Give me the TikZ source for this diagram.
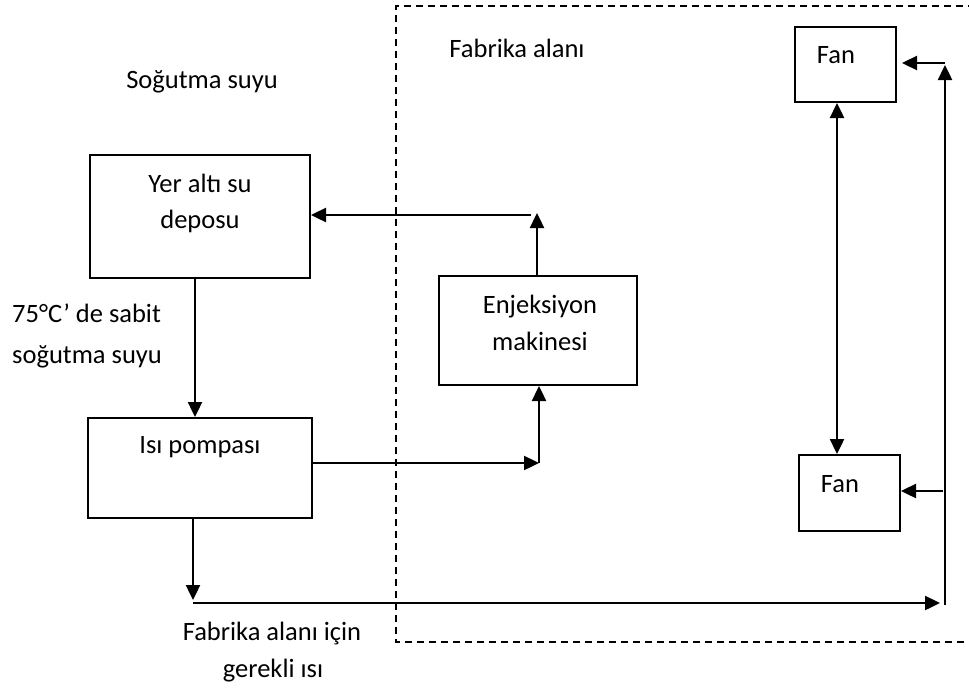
\documentclass[tikz,border=0pt]{standalone}
\usepackage{fontspec}
\setmainfont{Carlito}
\usetikzlibrary{arrows.meta}
\begin{document}
\begin{tikzpicture}[x=1pt,y=-1pt,
  box/.style={draw,line width=2pt,minimum width=#1,inner sep=0pt},
  lbl/.style={inner sep=0pt,anchor=base,font=\fontsize{26.5}{30}\selectfont},
  lblw/.style={inner sep=0pt,anchor=base west,font=\fontsize{26.5}{30}\selectfont},
  arr/.style={line width=2.4pt,-{Triangle[length=15pt,width=14pt]}},
  darr/.style={line width=2.4pt,{Triangle[length=15pt,width=14pt]}-{Triangle[length=15pt,width=14pt]}},
  frame/.style={line width=1.4pt,dash pattern=on 7pt off 5pt}]
\useasboundingbox (0,0) rectangle (969,688);
% dashed factory area
\draw[frame] (975,6) -- (396,6) -- (396,642) -- (975,642);
% boxes
\node[box=220pt,minimum height=123pt] (depo) at (200,216.5) {};
\node[box=224pt,minimum height=100pt] (pompa) at (200,468) {};
\node[box=198pt,minimum height=109pt] (enj) at (538,330.5) {};
\node[box=101pt,minimum height=75pt] (fanA) at (845.5,64.5) {};
\node[box=101pt,minimum height=76pt] (fanB) at (849.5,493) {};
% texts
\node[lbl] (t1) at (202,88) {Soğutma suyu};
\node[lbl] (t2) at (517,57) {Fabrika alanı};
\node[lblw] (t3) at (12,322) {75°C’ de sabit};
\node[lblw] (t4) at (12,363) {soğutma suyu};
\node[lbl] (t5) at (200,192) {Yer altı su};
\node[lbl] (t6) at (200,228) {deposu};
\node[lbl] (t7) at (200,453) {Isı pompası};
\node[lbl] (t8) at (540,313) {Enjeksiyon};
\node[lbl] (t9) at (540,350) {makinesi};
\node[lbl] (t10) at (836,63) {Fan};
\node[lbl] (t11) at (840,492) {Fan};
\node[lbl] (t12) at (272,640) {Fabrika alanı için};
\node[lbl] (t13) at (273,677) {gerekli ısı};
% helper coordinates
\coordinate (xa) at (195,0);
\coordinate (xb) at (193,0);
\coordinate (xc) at (537,0);
\coordinate (xd) at (539,0);
\coordinate (xf) at (837,0);
\coordinate (ya) at (0,463);
\coordinate (pA) at (537,213);
\coordinate (pB) at (531,215);
\coordinate (pC) at (193,600);
\coordinate (pD) at (193,603);
\coordinate (pE) at (940,603);
\coordinate (pF) at (945,605);
\coordinate (pG) at (945,65);
\coordinate (pH) at (945,63);
\coordinate (pI) at (943,491);
\coordinate (pJ) at (539,463);
% connectors
\draw[arr] (depo.south -| xa) -- (pompa.north -| xa);
\draw[arr] (pompa.east |- ya) -- (pJ);
\draw[arr] (pJ) -- (enj.south -| xd);
\draw[arr] (enj.north -| xc) -- (pA);
\draw[arr] (pB) -- (depo.east |- pB);
\draw[arr] (pompa.south -| xb) -- (pC);
\draw[arr] (pD) -- (pE);
\draw[arr] (pF) -- (pG);
\draw[arr] (pH) -- ([xshift=5pt]fanA.east |- pH);
\draw[arr] (pI) -- (fanB.east |- pI);
\draw[darr] (fanA.south -| xf) -- (fanB.north -| xf);
\end{tikzpicture}
\end{document}
